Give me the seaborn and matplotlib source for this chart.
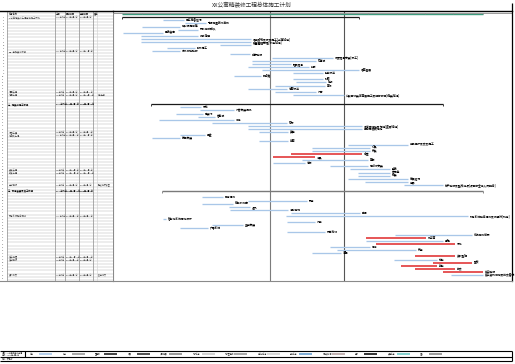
import numpy as np
import pandas as pd
import seaborn as sns
import matplotlib.pyplot as plt

sns.set_theme(style="white")
plt.rcParams['font.family'] = ['Noto Sans CJK SC', 'DejaVu Sans']

title = 'XX公寓精装修工程总体施工计划'

# 甘特图任务：行号、开始（天）、结束（天）、类型、标签
rows = [0, 1, 2, 3, 4, 5, 6, 7, 8, 9, 10, 11, 12, 13, 14, 15, 16, 17, 18, 19, 20, 21, 22, 23, 24, 25, 26,
        29, 30, 31, 32, 33, 34, 35, 36, 37, 38, 39, 40, 41, 42, 43, 44, 45, 46, 47, 48, 49, 50, 51, 52, 53, 54, 55,
        57, 59, 60, 61, 62, 63, 64, 65, 66, 67, 68, 69, 70, 71, 72, 73, 74, 75, 76, 77, 78, 79, 80, 81, 82, 83, 84]
starts = [9, 9, 50, 72, 29, 65, 10, 28, 28, 28, 107, 54, 39, 117, 159, 139, 139, 135, 149, 180, 121, 180, 183, 162, 135, 162, 180,
          38, 67, 87, 63, 85, 46, 99, 135, 135, 146, 67, 39, 146, 235, 199, 199, 178, 160, 189, 160, 217, 237, 245, 245, 235, 252, 291,
          49, 89, 135, 89, 116, 117, 178, 173, 50, 174, 99, 67, 174, 282, 253, 253, 263, 217, 224, 199, 302, 281, 320, 288, 302, 330, 338]
ends = [370, 246, 71, 93, 67, 85, 50, 85, 138, 138, 138, 82, 67, 137, 220, 203, 178, 196, 246, 210, 148, 210, 213, 212, 174, 203, 231,
        330, 88, 121, 90, 102, 121, 174, 249, 249, 175, 92, 67, 175, 295, 257, 257, 249, 202, 255, 192, 255, 277, 277, 277, 295, 295, 330,
        370, 110, 194, 120, 137, 175, 247, 355, 53, 202, 130, 95, 212, 359, 313, 330, 342, 257, 303, 228, 342, 324, 359, 324, 342, 370, 370]
kinds = ['G', 'S'] + ['L'] * 25 + ['S'] + ['L'] * 15 + ['R', 'R'] + ['L'] * 9 + ['P'] + \
        ['L'] * 13 + ['R', 'L', 'R', 'L', 'L', 'L', 'R', 'L', 'R', 'R', 'R', 'R', 'L']
labels = ['', '', '施工准备进场', '现场测量放线复核', '临时设施搭建', '材料样板确认', '图纸会审', '拆除清运',
          '墙体砌筑及抹灰施工[土建班组]', '水电管线预埋[水电班组]', '线盒定位', '防水施工', '闭水试验验收', '隐蔽验收',
          '吊顶龙骨安装[木工]', '石膏板', '轻钢龙骨', '封板', '墙面基层', '腻子找平', '阴阳角', '打磨', '底漆', '面漆',
          '地面找平', '门套', '公共区域装饰面层施工及细部收口[精装班组]',
          '', '木作', '门窗安装调试', '套装门', '窗台板', '柜体', '石材', '墙地砖铺贴及勾缝[瓷砖班组]', '卫生间墙砖铺贴',
          '美缝', '五金', '橱柜安装', '台面', '成品保护及交叉施工', '灯具', '开关', '插座', '洁具', '面板', '地板',
          '踢脚线安装', '壁纸', '窗帘盒', '软装', '家具进场', '电器', '分户验收及整改消项[项目部全体人员配合]',
          '', '强电调试', '弱电', '给排水试压', '通风', '消防联动', '空调', '机电系统联合调试及试运行[机电]',
          '智能化系统深化设计', '门禁', '监控安装', '广播系统', '网络布线', '系统测试记录', '外立面', '景观', '绿化',
          '保洁', '开荒', '清理', '资料整理', '初验', '整改', '复验', '移交', '竣工验收', '竣工资料归档及移交备案']

# 时间刻度（月）
month_ticks = [29, 57, 85, 114, 142, 170, 199, 227, 255, 284, 312, 340, 370]
marker_days = [157, 231]

# 左侧表格
table_rows = [1, 12, 25, 26, 38, 39, 50, 51, 55, 65, 78, 79, 84]
table_names = ['XX公寓精装修工程总体施工计划', '一、基础装修阶段', '墙面工程', '地面工程', '门窗工程', '墙地砖工程',
               '安装工程', '软装工程', '分户验收', '机电系统联合调试', '竣工清理', '竣工验收', '资料移交']
table_durs = ['370 工作日', '246 工作日', '52 工作日', '70 工作日', '60 工作日', '115 工作日', '60 工作日', '40 工作日',
              '39 工作日', '182 工作日', '41 工作日', '60 工作日', '32 工作日']
table_starts = ['2019年3月1日', '2019年3月1日', '2019年8月5日', '2019年8月2日', '2019年8月1日', '2019年7月16日',
                '2019年10月5日', '2019年11月1日', '2020年1月2日', '2019年8月18日', '2019年12月20日', '2020年1月10日',
                '2020年2月3日']
table_ends = ['2020年3月5日', '2019年11月2日', '2019年9月25日', '2019年10月10日', '2019年9月29日', '2019年11月8日',
              '2019年12月3日', '2019年12月10日', '2020年2月9日', '2020年2月15日', '2020年1月30日', '2020年3月5日',
              '2020年3月5日']
table_notes = ['', '', '', '样板先行', '', '', '', '', '整改消项 复查', '', '', '', '备案 移交']
summary_names = ['二、精装修施工阶段', '三、机电安装及竣工阶段']
summary_rows = [29, 57]
summary_durs = ['292 工作日', '321 工作日']
summary_starts = ['2019年4月8日', '2019年4月19日']
summary_ends = ['2020年1月25日', '2020年3月5日']

footer_items = ['任务', '拆分', '里程碑', '摘要', '项目摘要', '外部任务', '外部里程碑', '非活动任务', '手动任务',
                '仅持续时间', '期限', '关键任务', '进度']
footer_colors = ['#a8c6e8', '#9a9a9a', '#222222', '#333333', '#8a8a8a', '#c8c8c8', '#9a9a9a', '#cfcfcf',
                 '#6aa0d0', '#b7a4a4', '#111111', '#6fcac6', '#8c8c8c']

df = pd.DataFrame({'row': rows, 'start': starts, 'end': ends, 'kind': kinds, 'label': labels})

W, H = 515, 364
fig = plt.figure(figsize=(W / 100, H / 100), dpi=100)

# 覆盖层：标题、页脚
fax = fig.add_axes([0, 0, 1, 1])
fax.set_xlim(0, W)
fax.set_ylim(H, 0)
fax.axis('off')
fax.patch.set_alpha(0)

top, bot = 11, 281
ax_left, ax_right = 113, 512
pos_b = 1 - bot / H
pos_h = (bot - top) / H
ylim = (85.9, -1.0)

ax = fig.add_axes([ax_left / W, pos_b, (ax_right - ax_left) / W, pos_h])
tax = fig.add_axes([0, pos_b, ax_left / W, pos_h])

palette = {'G': '#3d9b7d', 'S': '#1a1a1a', 'P': '#7a7a7a', 'L': '#a9c7e8', 'R': '#e2383a'}
widths = {'G': 1.0, 'S': 0.9, 'P': 1.0, 'L': 0.95, 'R': 1.2}
for kind, sub in df.groupby('kind'):
    ax.hlines(sub['row'], sub['start'], sub['end'], color=palette[kind], lw=widths[kind])
    if kind in ('S', 'P'):
        ax.vlines(sub['start'], sub['row'], sub['row'] + 0.7, color=palette[kind], lw=0.6)
        ax.vlines(sub['end'], sub['row'], sub['row'] + 0.7, color=palette[kind], lw=0.6)

for _, r in df.iterrows():
    if r['label']:
        ax.text(r['end'] + 2, r['row'], r['label'], fontsize=2.0, va='center', ha='left',
                color='black', fontweight='bold', clip_on=False)

ax.hlines(-0.5, 0, ax_right - ax_left, color='#8a8a8a', lw=0.6)
ax.vlines(month_ticks, -0.5, -0.1, color='#8a8a8a', lw=0.5)
for d, c in zip(marker_days, ['#7c7c7c', '#555555']):
    ax.axvline(d, color=c, lw=0.8, zorder=0)

ax.set_xlim(0, ax_right - ax_left)
ax.set_ylim(*ylim)
ax.set_xticks([])
ax.set_yticks([])
for side, c, w in [('top', 'black', 1.0), ('right', 'black', 0.9), ('left', '#8a8a8a', 0.8), ('bottom', '#8a8a8a', 0.8)]:
    ax.spines[side].set_color(c)
    ax.spines[side].set_linewidth(w)

# 表格
tax.set_xlim(0, ax_left)
tax.set_ylim(*ylim)
tax.set_xticks([])
tax.set_yticks([])
tax.hlines(np.arange(-0.5, 86, 1.0), 7, ax_left, color='#b5b5b5', lw=0.35)
tax.vlines([7, 55, 65, 79, 93, 113], -1, 86, color='#8c8c8c', lw=0.5)
tax.vlines([97], -1, 86, color='#d0d0d0', lw=0.4)
for i in range(1, 86):
    tax.text(3.5, i, str(i), fontsize=1.4, ha='center', va='center', color='#222')

hdr = ['任务名称', '工期', '开始时间', '完成时间', '备注']
for x, t in zip([9, 56, 66, 80, 94], hdr):
    tax.text(x, 0, t, fontsize=1.6, va='center', color='#222', fontweight='bold')
for r, n, d, s, e, note in zip(table_rows, table_names, table_durs, table_starts, table_ends, table_notes):
    tax.text(9, r, n, fontsize=1.6, va='center', color='#444')
    tax.text(56, r, d, fontsize=1.4, va='center', color='#444')
    tax.text(66, r, s, fontsize=1.4, va='center', color='#444')
    tax.text(80, r, e, fontsize=1.4, va='center', color='#444')
    if note:
        tax.text(98, r, note, fontsize=1.4, va='center', color='#444')
for r, n, d, s, e in zip(summary_rows, summary_names, summary_durs, summary_starts, summary_ends):
    tax.text(8, r, n, fontsize=1.7, va='center', color='black', fontweight='bold')
    tax.text(56, r, d, fontsize=1.5, va='center', color='black', fontweight='bold')
    tax.text(66, r, s, fontsize=1.5, va='center', color='black', fontweight='bold')
    tax.text(80, r, e, fontsize=1.5, va='center', color='black', fontweight='bold')
tax.spines['top'].set_color('black')
tax.spines['top'].set_linewidth(1.0)
tax.spines['bottom'].set_color('#8a8a8a')
tax.spines['bottom'].set_linewidth(0.8)
tax.spines['left'].set_visible(False)
tax.spines['right'].set_visible(False)

# 标题与边框
fax.text(252, 4.5, title, fontsize=4.1, ha='center', va='center', color='#333')
fax.vlines(ax_right, 3, top, color='black', lw=0.9)

# 页脚
fax.hlines([351, 356.7, 361], 0, ax_right, color='black', lw=0.8)
fax.vlines([25], 351, 356.7, color='black', lw=0.8)
fax.vlines([ax_right], 351, 361, color='black', lw=0.8)
fax.text(2, 352.8, '项目：XX公寓精装修工程', fontsize=1.4, va='center', color='#333')
fax.text(2, 354.9, '日期：2019年3月1日', fontsize=1.4, va='center', color='#333')
fax.text(2, 358.8, '编制：项目部', fontsize=1.4, va='center', color='#333')
xs = np.linspace(30, 420, len(footer_items))
for x, t, c in zip(xs, footer_items, footer_colors):
    fax.text(x, 353.8, t, fontsize=1.4, va='center', color='#333')
    fax.hlines(353.8, x + 9, x + 22, color=c, lw=1.2)

fig.savefig('out.png', dpi=100)
